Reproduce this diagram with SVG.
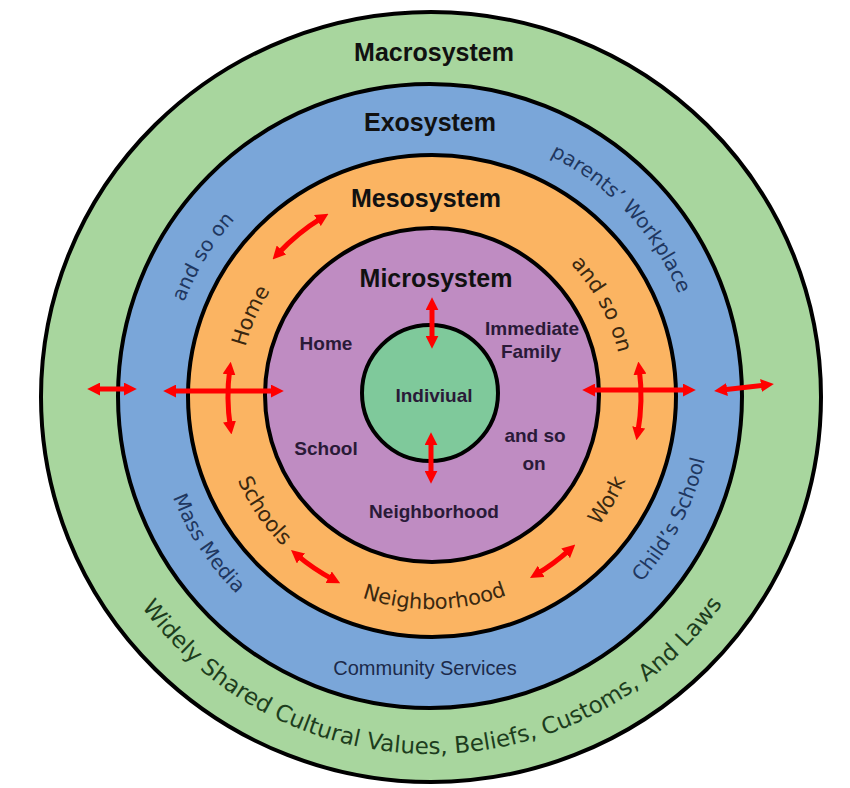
<svg xmlns="http://www.w3.org/2000/svg" width="850" height="788" viewBox="0 0 850 788">
<defs>
<style>
.ring{stroke:#000;stroke-width:4}
.title{font-family:"Liberation Sans",Arial,sans-serif;font-weight:bold;font-size:25px;fill:#111;text-anchor:middle}
.inner{font-family:"Liberation Sans",Arial,sans-serif;font-weight:bold;font-size:19px;fill:#2a1a38;text-anchor:middle}
.curve{font-family:"DejaVu Sans",sans-serif}
.blue{fill:#1f3760;font-size:20px}
.orng{fill:#3a2810;font-size:21px}
.grn{fill:#1d3d1d;font-size:23px}
.arrow{fill:none;stroke:#f00;stroke-width:5;marker-start:url(#head);marker-end:url(#head)}
</style>
<marker id="head" viewBox="0 0 10 10" refX="4" refY="5" markerWidth="13" markerHeight="13" markerUnits="userSpaceOnUse" orient="auto-start-reverse">
<path d="M0,0 L10,5 L0,10 z" fill="#f00"/>
</marker>
<path id="p-workplace" d="M248.2,200 A268,268 0 0 1 613.8,592"/>
<path id="p-exo-soon" d="M293.5,621.4 A264,264 0 0 1 568.5,170.6"/>
<path id="p-massmedia" d="M276.5,162.5 A280,280 0 0 0 585.5,629.5"/>
<path id="p-childschool" d="M302.1,645.7 A281,281 0 0 0 559.9,146.3"/>
<path id="p-home" d="M352.9,571.4 A192,192 0 0 1 509.1,220.6"/>
<path id="p-meso-soon" d="M338.4,223.3 A196,196 0 0 1 523.6,568.7"/>
<path id="p-schools" d="M311.5,222.1 A211,211 0 0 0 550.5,569.9"/>
<path id="p-neigh" d="M218,399.7 A213,213 0 0 0 644,392.3"/>
<path id="p-work" d="M323.1,578.5 A212,212 0 0 0 538.9,213.5"/>
<path id="p-widely" d="M73,397.9 A358,358 0 0 0 789,394.1"/>
</defs>

<g id="macrosystem">
<ellipse class="ring" cx="431" cy="397" rx="390" ry="385" fill="#a8d69e"/>
<text class="title" x="434" y="61">Macrosystem</text>
<text class="curve grn"><textPath href="#p-widely" startOffset="50%" text-anchor="middle">Widely Shared Cultural Values, Beliefs, Customs, And Laws</textPath></text>
</g>

<g id="exosystem">
<ellipse class="ring" cx="430" cy="396" rx="312" ry="312" fill="#7aa6d9"/>
<text class="title" x="430" y="131">Exosystem</text>
<text class="curve blue"><textPath href="#p-workplace" startOffset="50%" text-anchor="middle">parents’ Workplace</textPath></text>
<text class="curve blue"><textPath href="#p-exo-soon" startOffset="50%" text-anchor="middle">and so on</textPath></text>
<text class="curve blue"><textPath href="#p-massmedia" startOffset="50%" text-anchor="middle">Mass Media</textPath></text>
<text class="curve blue"><textPath href="#p-childschool" startOffset="50%" text-anchor="middle">Child’s School</textPath></text>
<text x="425" y="675" font-family="Liberation Sans, Arial, sans-serif" font-size="20" fill="#1c2a4a" text-anchor="middle">Community Services</text>
</g>

<g id="mesosystem">
<ellipse class="ring" cx="432" cy="396" rx="244" ry="241" fill="#fbb462"/>
<text class="title" x="426" y="207">Mesosystem</text>
<text class="curve orng"><textPath href="#p-home" startOffset="50%" text-anchor="middle">Home</textPath></text>
<text class="curve orng"><textPath href="#p-meso-soon" startOffset="50%" text-anchor="middle">and so on</textPath></text>
<text class="curve orng"><textPath href="#p-schools" startOffset="50%" text-anchor="middle">Schools</textPath></text>
<text class="curve orng"><textPath href="#p-neigh" startOffset="50%" text-anchor="middle">Neighborhood</textPath></text>
<text class="curve orng"><textPath href="#p-work" startOffset="50%" text-anchor="middle">Work</textPath></text>
</g>

<g id="microsystem">
<ellipse class="ring" cx="432" cy="395" rx="167" ry="167" fill="#bf8cc2"/>
<text class="title" x="436" y="287">Microsystem</text>
<text class="inner" x="326" y="350">Home</text>
<text class="inner" x="532" y="335" font-size="17">Immediate</text>
<text class="inner" x="531" y="358" font-size="17">Family</text>
<text class="inner" x="326" y="455">School</text>
<text class="inner" x="535" y="442">and so</text>
<text class="inner" x="534" y="470">on</text>
<text class="inner" x="434" y="518" font-size="20">Neighborhood</text>
</g>

<g id="individual">
<circle class="ring" cx="430" cy="393" r="68" fill="#7fc99b"/>
<text class="inner" x="434" y="402" font-size="20" fill="#1a2a1a">Indiviual</text>
</g>

<g id="connectors">
<path class="arrow" d="M432,305 L432,341"/>
<path class="arrow" d="M431,440 L431,476"/>
<path class="arrow" d="M171,391 L276,391"/>
<path class="arrow" d="M229.7,369.5 A203,203 0 0 0 230.3,426.7"/>
<path class="arrow" d="M277.9,253.7 A209,209 0 0 1 321.8,217.8"/>
<path class="arrow" d="M590,390 L688,390"/>
<path class="arrow" d="M639.3,369.3 A210,210 0 0 1 637.8,432.5"/>
<path class="arrow" d="M95,389 L129,389"/>
<path class="arrow" d="M721.9,390.1 L766.1,384.9"/>
<path class="arrow" d="M297,555.1 A208,208 0 0 0 333.3,579.6"/>
<path class="arrow" d="M536.7,574 A207,207 0 0 0 569.5,549.8"/>
</g>
</svg>
